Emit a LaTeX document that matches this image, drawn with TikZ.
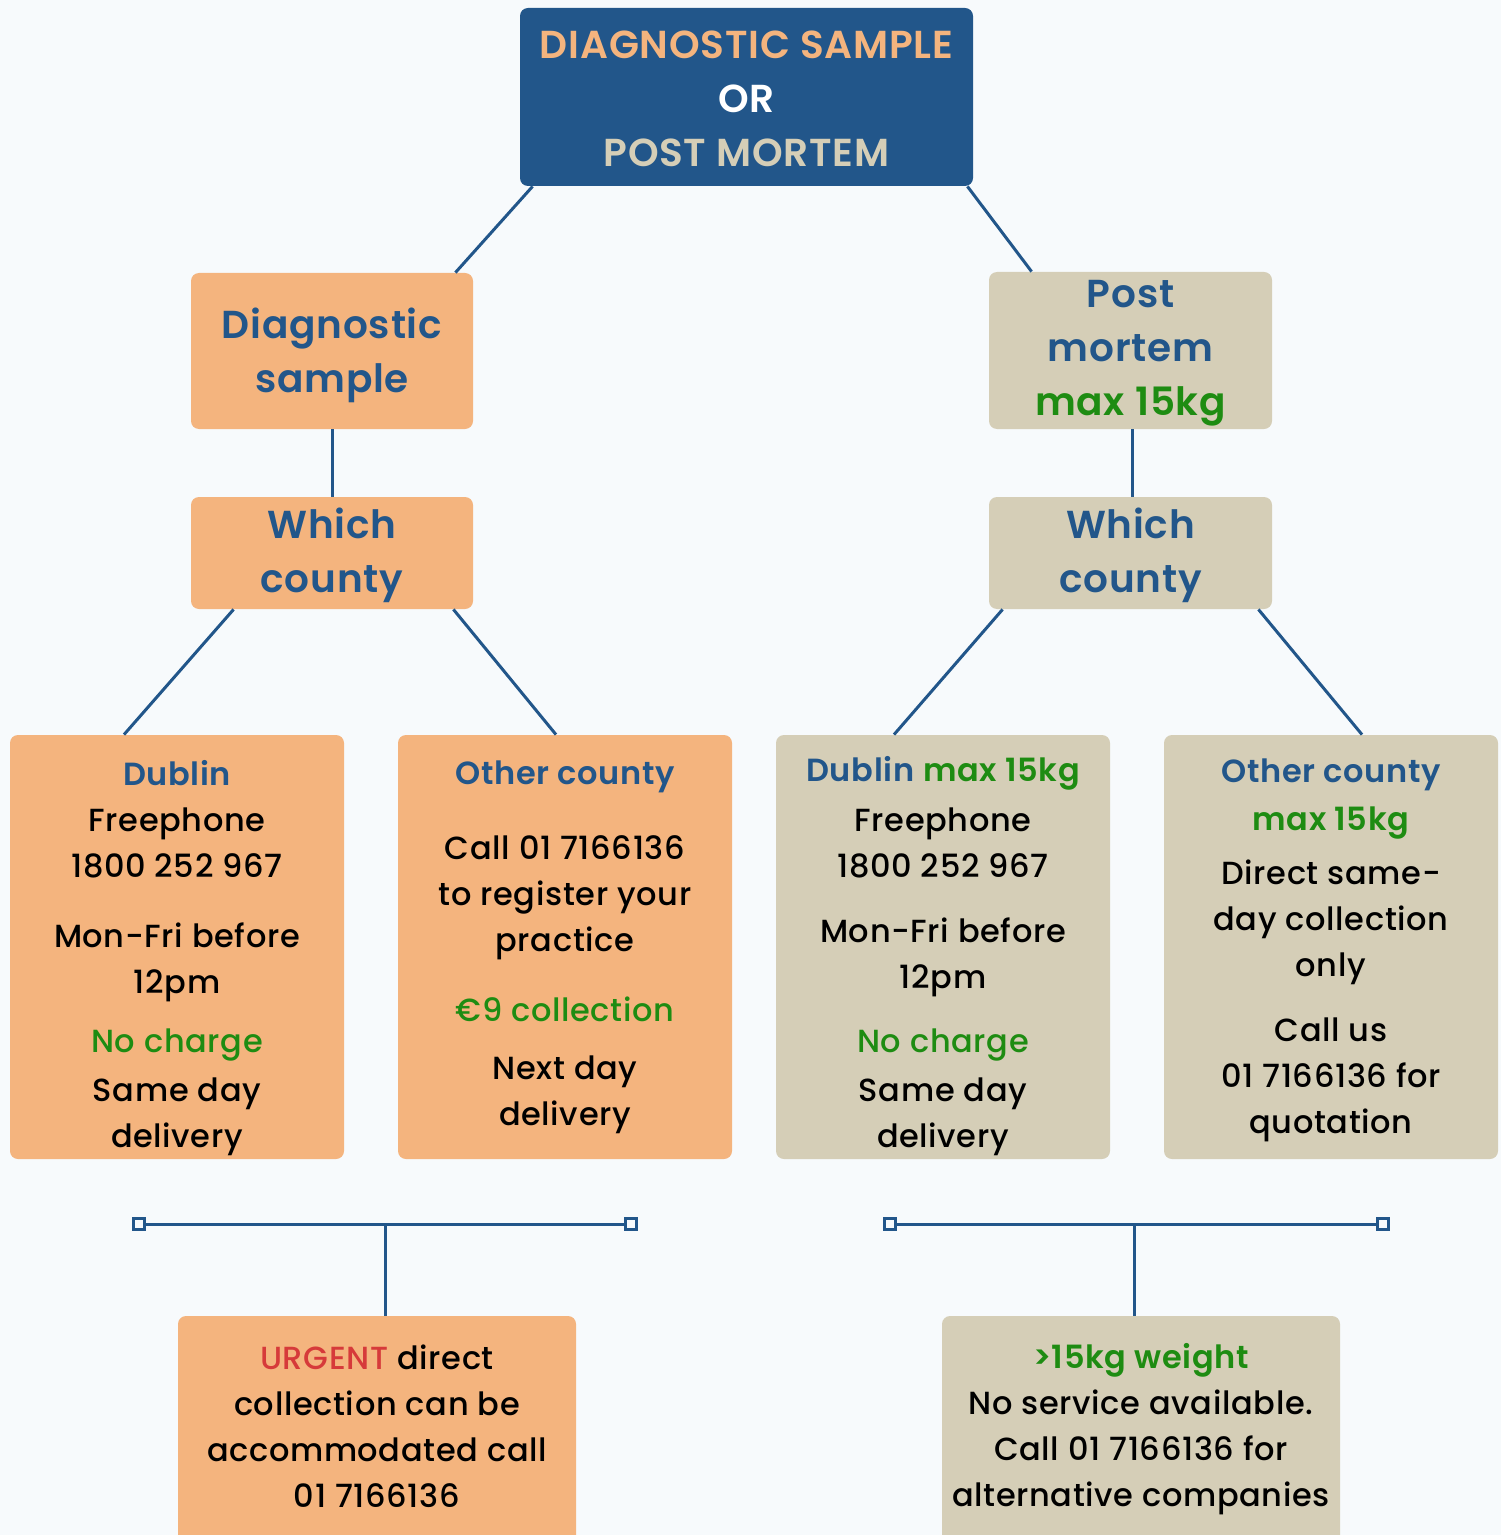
\documentclass[tikz,border=0pt]{standalone}
\usepackage{fontspec}
\IfFontExistsTF{Poppins Medium}
  {\setmainfont{Poppins}[UprightFont={* Medium},BoldFont={* SemiBold},LetterSpace=2]}
  {\setmainfont{Poppins}[LetterSpace=2]}
\usetikzlibrary{arrows.meta}

\definecolor{bgcol}{HTML}{F7FAFC}
\definecolor{navy}{HTML}{22568A}
\definecolor{peach}{HTML}{F4B47E}
\definecolor{sand}{HTML}{D5CEB7}
\definecolor{leaf}{HTML}{1E8C12}
\definecolor{alert}{HTML}{D63A3A}

\newcommand{\hd}[1]{\textbf{\color{navy}#1}}
\newcommand{\gr}[1]{{\color{leaf}#1}}
\newcommand{\grb}[1]{\textbf{\color{leaf}#1}}
\newcommand{\lift}[1]{\rule{0pt}{#1}}
\newcommand{\drop}[1]{\rule[-#1]{0pt}{0pt}}

\begin{document}
\begin{tikzpicture}[x=0.5pt,y=-0.5pt, line join=round]
  \tikzset{
    box/.style={rounded corners=4pt,inner sep=0pt,align=center,text=black,
      font=\fontsize{16}{23}\selectfont},
    dsbox/.style={box,fill=peach},
    pmbox/.style={box,fill=sand},
    bigtext/.style={font=\fontsize{19.5}{27}\selectfont\bfseries},
    link/.style={draw=navy,line width=1.5pt},
    sqtip/.tip={Square[fill=bgcol,length=7pt,width=7pt]},
    sqends/.style={sqtip-sqtip}
  }
  \fill[bgcol] (0,0) rectangle (1501,1535);
  \useasboundingbox (0,0) rectangle (1501,1535);

  % top of the tree
  \node[box,fill=navy,minimum width=226.5pt,minimum height=89pt,
        font=\fontsize{19.5}{27}\selectfont\bfseries] (title) at (746.5,97)
        {\lift{16pt}{\color{peach}DIAGNOSTIC SAMPLE}\\{\color{white}OR}\\{\color{sand}POST MORTEM}};

  % second level
  \node[dsbox,bigtext,minimum width=141pt,minimum height=78pt] (diag) at (332,351)
        {\lift{19.5pt}\color{navy}Diagnostic\\\color{navy}sample};
  \node[pmbox,bigtext,minimum width=141.5pt,minimum height=78.5pt] (post) at (1130.5,350.5)
        {\lift{16pt}\color{navy}Post\\\color{navy}mortem\\\color{leaf}max 15kg};

  \node[dsbox,bigtext,minimum width=141pt,minimum height=56pt] (whichL) at (332,553)
        {\lift{17.5pt}\color{navy}Which\\\color{navy}county};
  \node[pmbox,bigtext,minimum width=141.5pt,minimum height=56pt] (whichR) at (1130.5,553)
        {\lift{17.5pt}\color{navy}Which\\\color{navy}county};

  % county boxes
  \node[dsbox,minimum width=167pt,minimum height=212pt] (dubL) at (177,947)
        {\lift{24pt}\hd{Dublin}\\Freephone\\1800 252 967\\[12pt]Mon-Fri before\\12pm\\[6.5pt]
         \gr{No charge}\\[1.5pt]Same day\\delivery};
  \node[dsbox,minimum width=167pt,minimum height=212pt] (othL) at (565,947)
        {\hd{Other county}\\[14.5pt]Call 01 7166136\\to register your\\practice\\[12pt]
         \gr{€9 collection}\\[6pt]Next day\\delivery};
  \node[pmbox,minimum width=167pt,minimum height=212pt] (dubR) at (943,947)
        {\lift{22pt}\hd{Dublin} \grb{max 15kg}\\[2pt]Freephone\\1800 252 967\\[9.5pt]Mon-Fri before\\12pm\\[9pt]
         \gr{No charge}\\[1.5pt]Same day\\delivery};
  \node[pmbox,minimum width=167pt,minimum height=212pt] (othR) at (1331,947)
        {\lift{15pt}\hd{Other county}\\[1pt]\grb{max 15kg}\\[4pt]Direct same-\\day collection\\only\\[9.5pt]
         Call us\\01 7166136 for\\quotation};

  % notes at the foot
  \node[dsbox,minimum width=199pt,minimum height=114.5pt] (urgent) at (377,1430.5)
        {{\color{alert}URGENT} direct\\collection can be\\accommodated call\\\drop{4pt}01 7166136};
  \node[pmbox,minimum width=199pt,minimum height=114.5pt] (heavy) at (1141,1430.5)
        {\grb{>15kg weight}\\No service available.\\Call 01 7166136 for\\\drop{5.5pt}alternative companies};

  \coordinate (barL1) at (132,1224);
  \coordinate (barL2) at (638,1224);
  \coordinate (midL) at (385,1224);
  \coordinate (barR1) at (883,1224);
  \coordinate (barR2) at (1390,1224);
  \coordinate (midR) at (1134,1224);

  % connectors
  \draw[link] ([xshift=6.5pt]title.south west) -- ([xshift=-9pt]diag.north east);
  \draw[link] ([xshift=-3pt]title.south east) -- ([xshift=21.5pt]post.north west);
  \draw[link] (diag.south) -- (whichL.north);
  \draw[link] ([xshift=1pt]post.south) -- ([xshift=1pt]whichR.north);
  \draw[link] ([xshift=21.5pt]whichL.south west) -- ([xshift=-26.5pt]dubL.north);
  \draw[link] ([xshift=-10pt]whichL.south east) -- ([xshift=-4.5pt]othL.north);
  \draw[link] ([xshift=7pt]whichR.south west) -- ([xshift=-24.5pt]dubR.north);
  \draw[link] ([xshift=-7pt]whichR.south east) -- ([xshift=15.5pt]othR.north);
  \draw[link,sqends] (barL1) -- (barL2);
  \draw[link] (midL) -- (midL |- urgent.north);
  \draw[link,sqends] (barR1) -- (barR2);
  \draw[link] (midR) -- (midR |- heavy.north);
\end{tikzpicture}
\end{document}
